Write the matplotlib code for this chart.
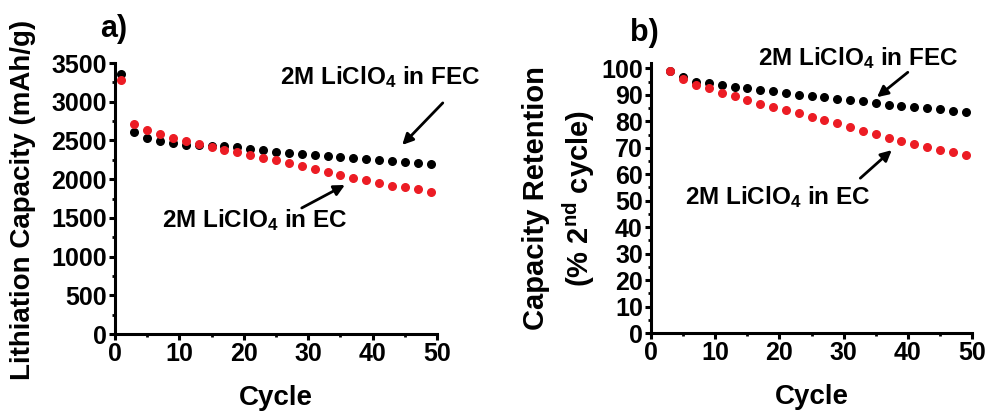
import numpy as np
import matplotlib.pyplot as plt
from matplotlib.ticker import MultipleLocator

plt.rcParams['font.family'] = ['Liberation Sans', 'DejaVu Sans']
plt.rcParams['font.weight'] = 'bold'
plt.rcParams['mathtext.default'] = 'regular'

# ciclos medidos (a cada 2 ciclos)
ciclos_cap = np.arange(1, 50, 2)
cap_fec = [3362, 2609, 2535, 2492, 2467, 2445, 2440, 2424, 2424, 2411, 2393, 2372, 2355,
           2337, 2329, 2312, 2303, 2282, 2273, 2256, 2247, 2230, 2217, 2208, 2195]
cap_ec = [3276, 2708, 2630, 2579, 2535, 2492, 2449, 2415, 2381, 2346, 2312, 2277, 2243,
          2208, 2174, 2131, 2096, 2053, 2019, 1993, 1950, 1916, 1894, 1868, 1834]

ciclos_ret = np.arange(3, 50, 2)
ret_fec = [99.0, 96.6, 95.0, 94.3, 93.6, 93.0, 92.5, 92.0, 91.4, 90.8, 90.0, 89.4,
           89.0, 88.6, 88.0, 87.5, 86.8, 86.3, 85.8, 85.5, 84.9, 84.5, 83.9, 83.4]
ret_ec = [99.0, 95.8, 93.8, 92.5, 90.8, 89.4, 87.9, 86.7, 85.4, 84.4, 83.1, 81.6,
          80.4, 79.5, 77.9, 76.5, 75.1, 73.7, 72.6, 71.3, 70.2, 69.3, 68.4, 67.2]

rotulo_fec = r'2M LiClO$_4$ in FEC'
rotulo_ec = r'2M LiClO$_4$ in EC'

vermelho = '#ec1c24'

fig = plt.figure(figsize=(9.88, 4.12), dpi=100)
ax1 = fig.add_axes([0.1164, 0.1893, 0.3259, 0.6577])
ax2 = fig.add_axes([0.659, 0.1917, 0.3248, 0.6553])


def estilo(ax):
    for s in ['top', 'right']:
        ax.spines[s].set_visible(False)
    for s in ['left', 'bottom']:
        ax.spines[s].set_linewidth(2.2)
    ax.tick_params(which='major', direction='out', length=4, width=2.2,
                   labelsize=18, pad=2)
    ax.tick_params(which='minor', direction='out', length=2.5, width=2)
    ax.set_xlim(0, 50)
    ax.xaxis.set_major_locator(MultipleLocator(10))
    ax.xaxis.set_minor_locator(MultipleLocator(5))
    ax.set_xlabel('Cycle', fontsize=20, fontweight='bold', va='center')
    ax.xaxis.set_label_coords(0.5, -0.236)


seta = dict(arrowstyle='-|>', color='black', lw=2, mutation_scale=16,
            shrinkA=0, shrinkB=0)

# a) capacidade de litiação
ax1.scatter(ciclos_cap, cap_fec, s=30, color='black', zorder=3, clip_on=False)
ax1.scatter(ciclos_cap, cap_ec, s=30, color=vermelho, zorder=3, clip_on=False)
estilo(ax1)
ax1.set_ylim(0, 3500)
ax1.yaxis.set_major_locator(MultipleLocator(500))
ax1.yaxis.set_minor_locator(MultipleLocator(250))
ax1.set_ylabel('Lithiation Capacity (mAh/g)', fontsize=20, fontweight='bold', va='center')
ax1.yaxis.set_label_coords(-0.286, 0.494)
ax1.text(41.1, 3320, rotulo_fec, fontsize=17.5, ha='center', va='center', clip_on=False)
ax1.annotate('', xy=(44.6, 2442), xytext=(50.9, 2985), annotation_clip=False,
             arrowprops=seta)
ax1.text(21.7, 1473, rotulo_ec, fontsize=17.5, ha='center', va='center')
ax1.annotate('', xy=(35.7, 1925), xytext=(29.0, 1628), arrowprops=seta)
fig.text(0.115, 0.93, 'a)', fontsize=22, fontweight='bold', ha='center', va='center')

# b) retenção de capacidade
ax2.scatter(ciclos_ret, ret_fec, s=30, color='black', zorder=3, clip_on=False)
ax2.scatter(ciclos_ret, ret_ec, s=30, color=vermelho, zorder=3, clip_on=False)
estilo(ax2)
ax2.set_ylim(0, 102)
ax2.yaxis.set_major_locator(MultipleLocator(10))
ax2.yaxis.set_minor_locator(MultipleLocator(5))
ax2.set_ylabel('Capacity Retention\n(% 2$^{nd}$ cycle)', fontsize=21,
               fontweight='bold', va='center', linespacing=1.35)
ax2.yaxis.set_label_coords(-0.285, 0.5)
ax2.text(32.2, 104, rotulo_fec, fontsize=17.5, ha='center', va='center')
ax2.annotate('', xy=(35.2, 89.1), xytext=(40.0, 98.5), arrowprops=seta,
             annotation_clip=False)
ax2.text(19.8, 51.3, rotulo_ec, fontsize=17.5, ha='center', va='center')
ax2.annotate('', xy=(37.5, 69.1), xytext=(32.6, 58.5), arrowprops=seta)
fig.text(0.652, 0.92, 'b)', fontsize=22, fontweight='bold', ha='center', va='center')

fig.savefig('out.png', dpi=100)
